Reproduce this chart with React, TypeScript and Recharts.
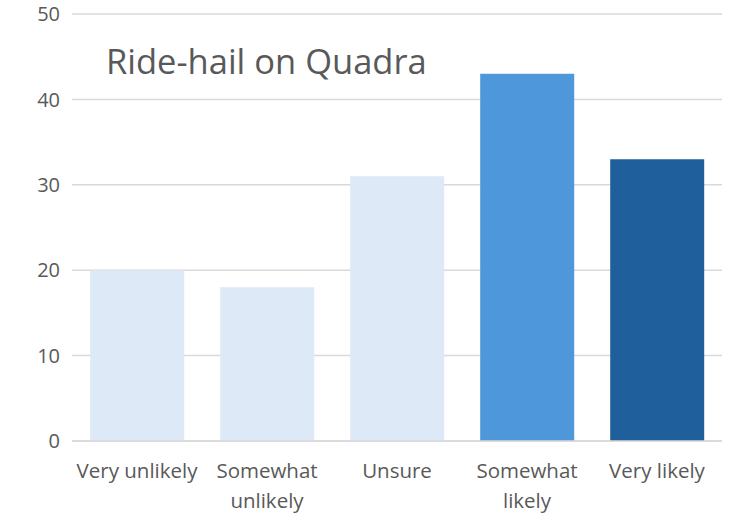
import { BarChart, Bar, XAxis, YAxis, CartesianGrid, Cell } from 'recharts'

const categories = ['Very unlikely', 'Somewhat\nunlikely', 'Unsure', 'Somewhat\nlikely', 'Very likely']
const values = [20, 18, 31, 43, 33]
const yTicks = [0, 10, 20, 30, 40, 50]
const barColors = ['#DDE9F6', '#DDE9F6', '#DDE9F6', '#4F97DB', '#1F5F9C']

const FONT = '"Open Sans", Inter, sans-serif'
const TEXT = '#595959'

const data = categories.map((name, i) => ({ name, value: values[i] }))

function XTick({ x, y, payload }: any) {
  const lines = String(payload.value).split('\n')
  return (
    <text x={x} y={y} textAnchor="middle" fill={TEXT} fontSize={20.5} fontFamily={FONT}>
      {lines.map((l, i) => (
        <tspan key={i} x={x} dy={i === 0 ? 29 : 30}>
          {l}
        </tspan>
      ))}
    </text>
  )
}

export default function App() {
  return (
    <div style={{ position: 'relative', width: 756, height: 527, background: '#fff' }}>
      <style>{'body{margin:0}'}</style>
      <BarChart
        width={756}
        height={527}
        data={data}
        margin={{ top: 14, right: 34, bottom: 0, left: 0 }}
        barCategoryGap="14%"
        style={{ overflow: 'visible' }}
      >
        <CartesianGrid vertical={false} stroke="#D9D9D9" strokeWidth={1.5} />
        <XAxis
          dataKey="name"
          height={86}
          axisLine={{ stroke: '#D9D9D9', strokeWidth: 1.5 }}
          tickLine={false}
          interval={0}
          tick={<XTick />}
        />
        <YAxis
          width={72}
          domain={[0, 50]}
          ticks={yTicks}
          axisLine={false}
          tickLine={false}
          tickSize={0}
          tickMargin={12}
          tick={{ fill: TEXT, fontSize: 20, fontFamily: FONT }}
        />
        <Bar dataKey="value" isAnimationActive={false}>
          {data.map((d, i) => (
            <Cell key={d.name} fill={barColors[i]} />
          ))}
        </Bar>
      </BarChart>
      <div
        style={{
          position: 'absolute',
          left: 106,
          top: 44,
          fontSize: 34.5,
          fontFamily: FONT,
          color: TEXT,
          lineHeight: 1,
          whiteSpace: 'nowrap',
        }}
      >
        Ride-hail on Quadra
      </div>
    </div>
  )
}
